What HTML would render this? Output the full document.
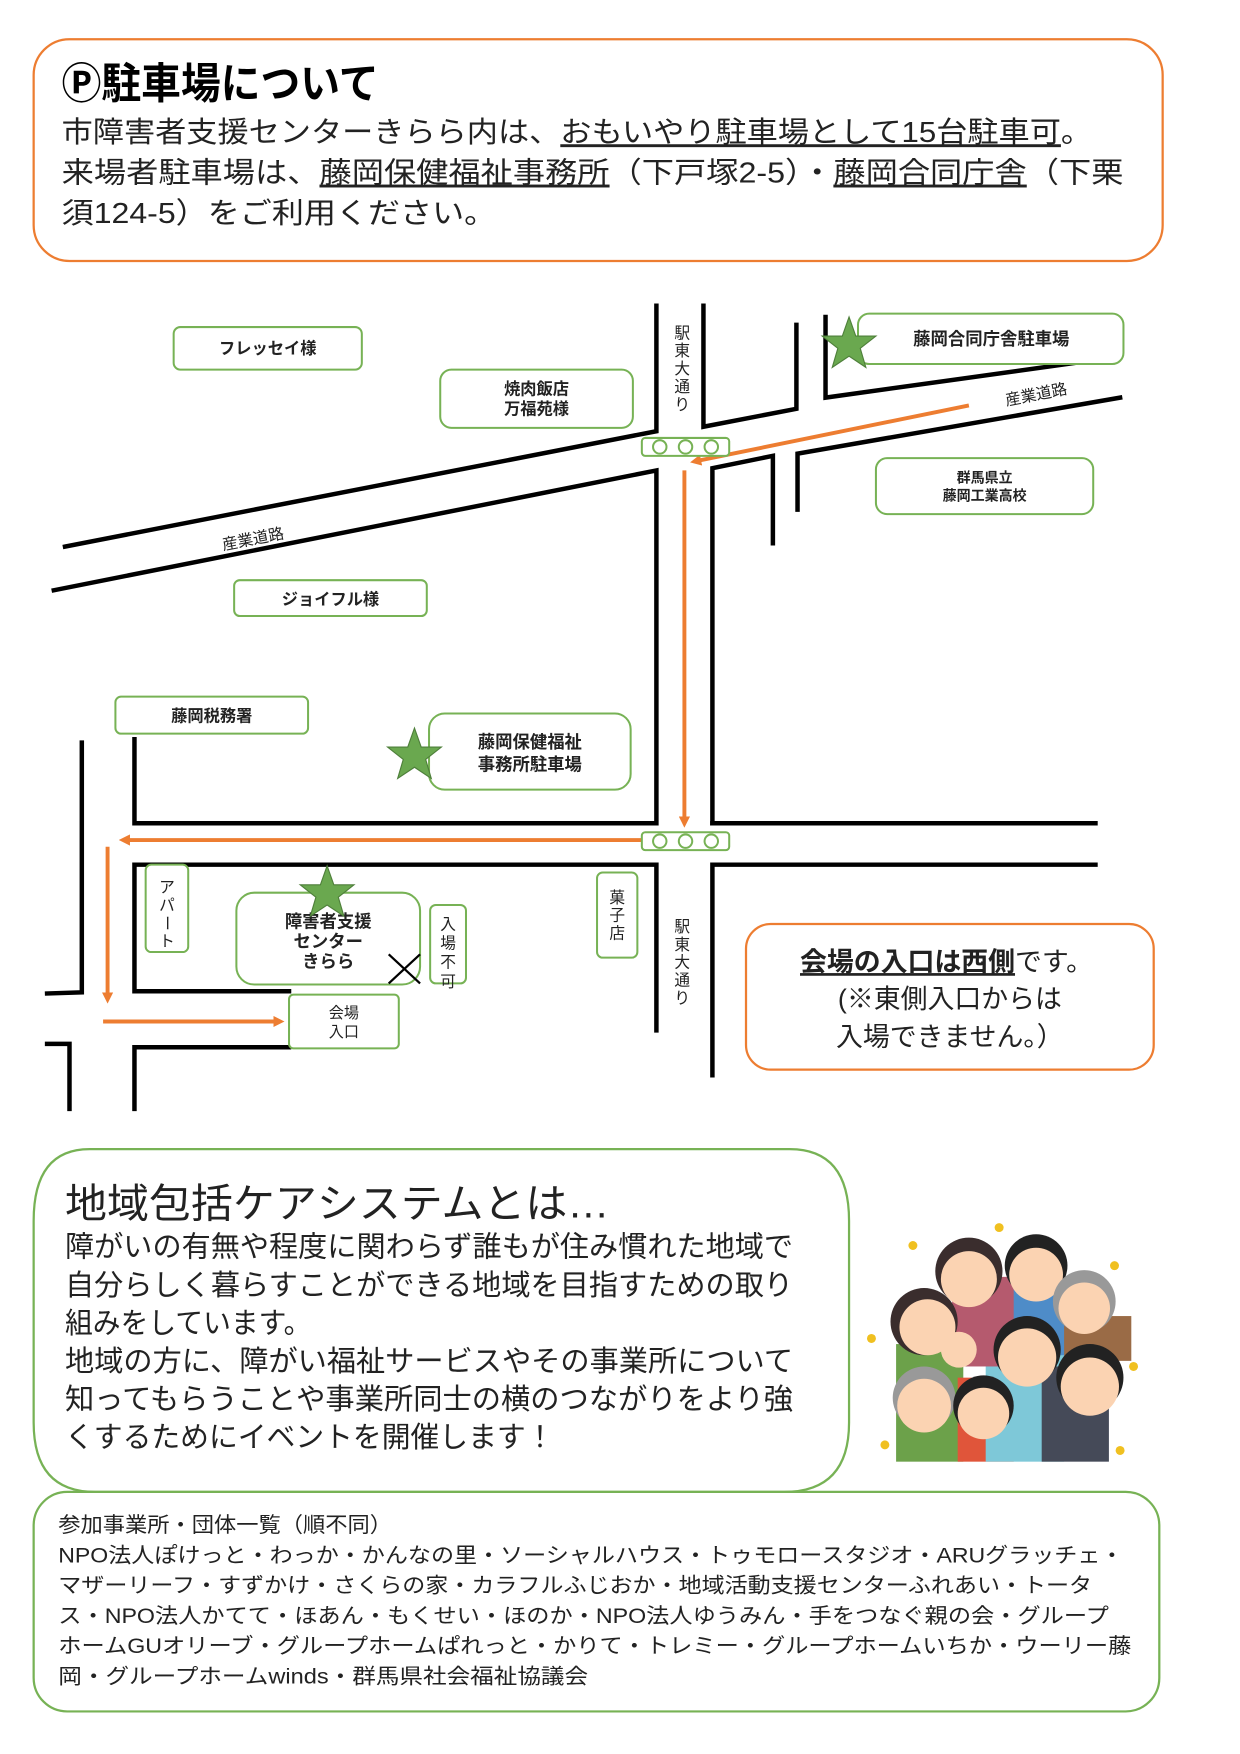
<!DOCTYPE html>
<html><head><meta charset="utf-8"><style>
html,body{margin:0;padding:0;background:#fff;}
svg{display:block;}
text{font-family:"Liberation Sans","Noto Sans CJK JP",sans-serif;fill:#222;}
.g{fill:none;stroke:#77b255;stroke-width:1.8;}
.k{fill:none;stroke:#000;stroke-width:4;stroke-linecap:square;}
.o{fill:none;stroke:#ed7d31;stroke-width:3.5;}
.bx{font-size:14.5px;font-weight:bold;fill:#333;}
</style></head><body>
<svg width="1240" height="1754" viewBox="0 0 1107 1566" xmlns="http://www.w3.org/2000/svg">
<defs>
<marker id="ah" markerWidth="10" markerHeight="10" refX="6" refY="5" orient="auto" markerUnits="userSpaceOnUse"><path d="M0,0 L10,5 L0,10 z" fill="#ed7d31"/></marker>
</defs>
<rect x="30" y="35" width="1008" height="198" rx="32" fill="none" stroke="#ed7d31" stroke-width="2"/>
<text x="55" y="88" font-size="38" font-weight="bold" style="fill:#000" textLength="283" lengthAdjust="spacingAndGlyphs">Ⓟ駐車場について</text>
<text x="55" y="127" font-size="26" textLength="920" lengthAdjust="spacingAndGlyphs">市障害者支援センターきらら内は、<tspan text-decoration="underline">おもいやり駐車場として15台駐車可</tspan>。</text>
<text x="55" y="163" font-size="26" textLength="948" lengthAdjust="spacingAndGlyphs">来場者駐車場は、<tspan text-decoration="underline">藤岡保健福祉事務所</tspan>（下戸塚2-5）・<tspan text-decoration="underline">藤岡合同庁舎</tspan>（下栗</text>
<text x="55" y="199" font-size="26" textLength="388" lengthAdjust="spacingAndGlyphs">須124-5）をご利用ください。</text>

<g class="k">
<path d="M58,488 L586,385 L586,273"/>
<path d="M628,273 L628,381 L711,365 L711,290"/>
<path d="M737,283 L737,355 L960,324"/>
<path d="M48,527 L586,420 L586,735 L120,735 L120,660"/>
<path d="M636,735 L636,418 L690,407 L690,485"/>
<path d="M712,455 L712,405 L1000,355"/>
<path d="M636,735 L978,735"/>
<path d="M73,663 L73,886 L42,887"/>
<path d="M258,885 L120,885 L120,772 L586,772 L586,920"/>
<path d="M636,960 L636,772 L978,772"/>
<path d="M42,932 L62,932 L62,990"/>
<path d="M120,990 L120,935 L258,935"/>
</g>
<g class="o">
<path d="M865,362 L620,412" marker-end="url(#ah)"/>
<path d="M611,420 L611,735" marker-end="url(#ah)"/>
<path d="M573,750 L110,750" marker-end="url(#ah)"/>
<path d="M96,756 L96,892" marker-end="url(#ah)"/>
<path d="M92,912 L250,912" marker-end="url(#ah)"/>
</g>
<g class="g" stroke-width="1.5">
<rect x="573" y="391" width="78" height="16" rx="3" fill="#fff"/>
<circle cx="589" cy="399" r="6"/><circle cx="612" cy="399" r="6"/><circle cx="635" cy="399" r="6"/>
<rect x="573" y="743" width="78" height="16" rx="3" fill="#fff"/>
<circle cx="589" cy="751" r="6"/><circle cx="612" cy="751" r="6"/><circle cx="635" cy="751" r="6"/>
</g>
<g class="g">
<rect x="155" y="292" width="168" height="38" rx="6" fill="#fff"/>
<rect x="393" y="330" width="172" height="52" rx="10" fill="#fff"/>
<rect x="766" y="280" width="237" height="45" rx="10" fill="#fff"/>
<rect x="782" y="409" width="194" height="50" rx="10" fill="#fff"/>
<rect x="209" y="518" width="172" height="32" rx="5" fill="#fff"/>
<rect x="103" y="622" width="172" height="33" rx="5" fill="#fff"/>
<rect x="383" y="637" width="180" height="68" rx="14" fill="#fff"/>
<rect x="130" y="772" width="38" height="78" rx="5" fill="#fff"/>
<rect x="211" y="797" width="164" height="82" rx="16" fill="#fff"/>
<rect x="384" y="808" width="32" height="70" rx="5" fill="#fff"/>
<rect x="533" y="779" width="36" height="76" rx="5" fill="#fff"/>
<rect x="258" y="888" width="98" height="48" rx="4" fill="#fff"/>
</g>
<g class="bx">
<text x="239" y="316" text-anchor="middle">フレッセイ様</text>
<text x="479" y="352" text-anchor="middle">焼肉飯店</text>
<text x="479" y="370" text-anchor="middle">万福苑様</text>
<text x="885" y="308" text-anchor="middle" font-size="15.5">藤岡合同庁舎駐車場</text>
<text x="879" y="431" text-anchor="middle" font-size="12.5">群馬県立</text>
<text x="879" y="447" text-anchor="middle" font-size="12.5">藤岡工業高校</text>
<text x="295" y="540" text-anchor="middle">ジョイフル様</text>
<text x="189" y="644" text-anchor="middle">藤岡税務署</text>
<text x="473" y="668" text-anchor="middle" font-size="15.5">藤岡保健福祉</text>
<text x="473" y="688" text-anchor="middle" font-size="15.5">事務所駐車場</text>
<text x="293" y="828" text-anchor="middle" font-size="15.5">障害者支援</text>
<text x="293" y="846" text-anchor="middle" font-size="15.5">センター</text>
<text x="293" y="864" text-anchor="middle" font-size="15.5">きらら</text>
<text x="307" y="909" text-anchor="middle" font-size="13.5" font-weight="normal">会場</text>
<text x="307" y="926" text-anchor="middle" font-size="13.5" font-weight="normal">入口</text>
<text x="226" y="486" text-anchor="middle" font-size="14" font-weight="normal" transform="rotate(-11 226 482)">産業道路</text>
<text x="925" y="357" text-anchor="middle" font-size="14" font-weight="normal" transform="rotate(-11 925 352)">産業道路</text>
</g>
<g font-size="14" text-anchor="middle">
<text x="609" y="302">駅</text><text x="609" y="318">東</text><text x="609" y="334">大</text><text x="609" y="350">通</text><text x="609" y="366">り</text>
<text x="609" y="832">駅</text><text x="609" y="848">東</text><text x="609" y="864">大</text><text x="609" y="880">通</text><text x="609" y="896">り</text>
<text x="551" y="806">菓</text><text x="551" y="822">子</text><text x="551" y="838">店</text>
<text x="400" y="830">入</text><text x="400" y="847">場</text><text x="400" y="864">不</text><text x="400" y="881">可</text>
<text x="149" y="797">ア</text><text x="149" y="813">パ</text><text x="149" y="829" transform="rotate(90 149 824)">ー</text><text x="149" y="845">ト</text>
</g>
<g fill="#6aa84f" stroke="#4e7f3a" stroke-width="1">
<polygon points="758,283 764,300 782,300 768,311 773,328 758,318 743,328 748,311 734,300 752,300"/>
<polygon points="370,650 376,667 394,667 380,678 385,695 370,685 355,695 360,678 346,667 364,667"/>
<polygon points="292,773 298,790 316,790 302,801 307,818 292,808 277,818 282,801 268,790 286,790"/>
</g>
<path d="M347,852 L375,878 M375,852 L347,878" stroke="#000" stroke-width="2"/>
<rect x="666" y="825" width="364" height="130" rx="22" fill="none" stroke="#ed7d31" stroke-width="2"/>
<text x="845" y="867" font-size="24" text-anchor="middle"><tspan text-decoration="underline" font-weight="bold">会場の入口は西側</tspan>です。</text>
<text x="848" y="900" font-size="24" text-anchor="middle">(※東側入口からは</text>
<text x="848" y="934" font-size="24" text-anchor="middle">入場できません。）</text>

<path d="M80,1026 L705,1026 Q758,1026 758,1090 L758,1270 Q758,1332 700,1332 L85,1332 Q30,1332 30,1270 L30,1090 Q30,1026 80,1026 Z" fill="none" stroke="#77b255" stroke-width="2"/>
<text x="58" y="1087" font-size="36" textLength="486" lengthAdjust="spacingAndGlyphs">地域包括ケアシステムとは…</text>
<g font-size="26">
<text x="58" y="1122" textLength="650" lengthAdjust="spacingAndGlyphs">障がいの有無や程度に関わらず誰もが住み慣れた地域で</text>
<text x="58" y="1156" textLength="650" lengthAdjust="spacingAndGlyphs">自分らしく暮らすことができる地域を目指すための取り</text>
<text x="58" y="1190" textLength="220" lengthAdjust="spacingAndGlyphs">組みをしています。</text>
<text x="58" y="1224" textLength="650" lengthAdjust="spacingAndGlyphs">地域の方に、障がい福祉サービスやその事業所について</text>
<text x="58" y="1258" textLength="650" lengthAdjust="spacingAndGlyphs">知ってもらうことや事業所同士の横のつながりをより強</text>
<text x="58" y="1292" textLength="437" lengthAdjust="spacingAndGlyphs">くするためにイベントを開催します！</text>
</g>
<g>
<rect x="800" y="1200" width="60" height="105" fill="#6ca14a"/>
<rect x="855" y="1230" width="50" height="75" fill="#e0553a"/>
<rect x="880" y="1180" width="70" height="125" fill="#7ec8d8"/>
<rect x="930" y="1220" width="60" height="85" fill="#454a58"/>
<rect x="850" y="1140" width="60" height="80" fill="#b55a6e"/>
<rect x="905" y="1150" width="60" height="60" fill="#4e8cc8"/>
<rect x="950" y="1175" width="60" height="40" fill="#9a6b46"/>
<circle cx="825" cy="1180" r="30" fill="#3a2d2d"/><circle cx="828" cy="1185" r="25" fill="#fbd3b2"/>
<circle cx="865" cy="1135" r="30" fill="#3a2d2d"/><circle cx="865" cy="1142" r="25" fill="#fbd3b2"/>
<circle cx="925" cy="1130" r="28" fill="#222"/><circle cx="925" cy="1138" r="24" fill="#fbd3b2"/>
<circle cx="968" cy="1162" r="28" fill="#999"/><circle cx="968" cy="1168" r="23" fill="#fbd3b2"/>
<circle cx="856" cy="1205" r="16" fill="#fbd3b2"/>
<circle cx="917" cy="1205" r="30" fill="#222"/><circle cx="917" cy="1212" r="26" fill="#fbd3b2"/>
<circle cx="825" cy="1248" r="28" fill="#999"/><circle cx="825" cy="1255" r="24" fill="#fbd3b2"/>
<circle cx="878" cy="1255" r="27" fill="#222"/><circle cx="878" cy="1262" r="23" fill="#fbd3b2"/>
<circle cx="973" cy="1230" r="30" fill="#222"/><circle cx="973" cy="1238" r="26" fill="#fbd3b2"/>
<g fill="#f0c020"><circle cx="892" cy="1096" r="4"/><circle cx="815" cy="1112" r="4"/><circle cx="995" cy="1130" r="4"/><circle cx="778" cy="1195" r="4"/><circle cx="1012" cy="1220" r="4"/><circle cx="790" cy="1290" r="4"/><circle cx="1000" cy="1295" r="4"/></g>
</g>
<rect x="30" y="1332" width="1005" height="196" rx="30" fill="none" stroke="#77b255" stroke-width="2"/>
<g font-size="19">
<text x="52" y="1368" textLength="298" lengthAdjust="spacingAndGlyphs">参加事業所・団体一覧（順不同）</text>
<text x="52" y="1395" textLength="951" lengthAdjust="spacingAndGlyphs">NPO法人ぽけっと・わっか・かんなの里・ソーシャルハウス・トゥモロースタジオ・ARUグラッチェ・</text>
<text x="52" y="1422" textLength="923" lengthAdjust="spacingAndGlyphs">マザーリーフ・すずかけ・さくらの家・カラフルふじおか・地域活動支援センターふれあい・トータ</text>
<text x="52" y="1449" textLength="938" lengthAdjust="spacingAndGlyphs">ス・NPO法人かてて・ほあん・もくせい・ほのか・NPO法人ゆうみん・手をつなぐ親の会・グループ</text>
<text x="52" y="1476" textLength="958" lengthAdjust="spacingAndGlyphs">ホームGUオリーブ・グループホームぱれっと・かりて・トレミー・グループホームいちか・ウーリー藤</text>
<text x="52" y="1503" textLength="473" lengthAdjust="spacingAndGlyphs">岡・グループホームwinds・群馬県社会福祉協議会</text>
</g>
</svg>
</body></html>
